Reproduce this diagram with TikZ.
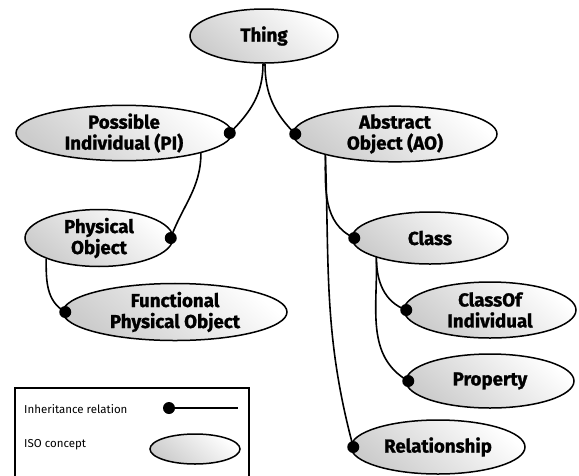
\documentclass[tikz,border=0pt]{standalone}
\usepackage{fontspec}
\setmainfont{Fira Sans}[BoldFeatures={FakeBold=1.2}]
\usetikzlibrary{shapes.geometric}

\tikzset{
  concept/.style={ellipse, draw=black, line width=1.5pt, inner sep=0pt,
    top color=white, bottom color=black!20, shading angle=-40,
    font=\bfseries\fontsize{18.7}{21}\selectfont, align=center},
  isa/.style={draw=black, line width=1.6pt},
  knob/.style={circle, fill=black, inner sep=0pt, minimum size=12pt},
}

\begin{document}
\begin{tikzpicture}[x=1pt, y=-1pt]
  \useasboundingbox (0,0) rectangle (579,475);

  % concepts
  \node[concept, minimum width=148pt, minimum height=54pt] (thing) at (264,36) {Thing};
  \node[concept, minimum width=216pt, minimum height=54pt] (pi) at (124,133) {Possible\\Individual (PI)};
  \node[concept, minimum width=204pt, minimum height=54pt] (ao) at (395,134) {Abstract\\Object (AO)};
  \node[concept, minimum width=148pt, minimum height=50pt] (po) at (99,238) {Physical\\Object};
  \node[concept, minimum width=224pt, minimum height=52pt] (fpo) at (175,312) {Functional\\Physical Object};
  \node[concept, minimum width=156pt, minimum height=52pt] (class) at (430,238) {Class};
  \node[concept, minimum width=172pt, minimum height=56pt] (coi) at (490,310) {ClassOf\\Individual};
  \node[concept, minimum width=168pt, minimum height=54pt] (prop) at (490,381) {Property};
  \node[concept, minimum width=174pt, minimum height=54pt] (rel) at (438,447) {Relationship};

  % inheritance relations
  \draw[isa] ([xshift=-1pt]thing.south) to[out=-90, in=45] ([xshift=-3pt]pi.east);
  \draw[isa] ([xshift=1pt]thing.south) to[out=-90, in=135] ([xshift=3pt]ao.west);
  \draw[isa] (pi.south east) to[out=-90, in=70] ([xshift=-3pt]po.east);
  \draw[isa] (po.south west) to[out=-90, in=150] ([xshift=3pt]fpo.west);
  \draw[isa] ([xshift=3pt]ao.south west) to[out=-90, in=155] ([xshift=3pt]class.west);
  \draw[isa] ([xshift=3pt]ao.south west) to[out=-88, in=105] ([xshift=3pt]rel.west);
  \draw[isa] ([xshift=2pt]class.south west) to[out=-90, in=160] ([xshift=3pt]coi.west);
  \draw[isa] ([xshift=2pt]class.south west) to[out=-88, in=150] ([xshift=3pt]prop.west);

  \node[knob] at ([xshift=-3pt]pi.east) {};
  \node[knob] at ([xshift=3pt]ao.west) {};
  \node[knob] at ([xshift=-3pt]po.east) {};
  \node[knob] at ([xshift=3pt]fpo.west) {};
  \node[knob] at ([xshift=3pt]class.west) {};
  \node[knob] at ([xshift=3pt]rel.west) {};
  \node[knob] at ([xshift=3pt]coi.west) {};
  \node[knob] at ([xshift=3pt]prop.west) {};

  % legend
  \draw[line width=1.2pt] (15,476) -- (15,388) -- (249,388) -- (249,476);
  \node[anchor=west, font=\fontsize{11.5}{14}\selectfont, inner sep=0pt] (legisa) at (24,409) {Inheritance relation};
  \node[anchor=west, font=\fontsize{11.5}{14}\selectfont, inner sep=0pt] (legiso) at (24,445) {ISO concept};
  \node[knob] (legknob) at (169,408) {};
  \coordinate (legend) at (238,408);
  \draw[isa] (legknob.center) -- (legend);
  \node[concept, minimum width=90pt, minimum height=30pt] (legell) at (195,449) {};
\end{tikzpicture}
\end{document}
